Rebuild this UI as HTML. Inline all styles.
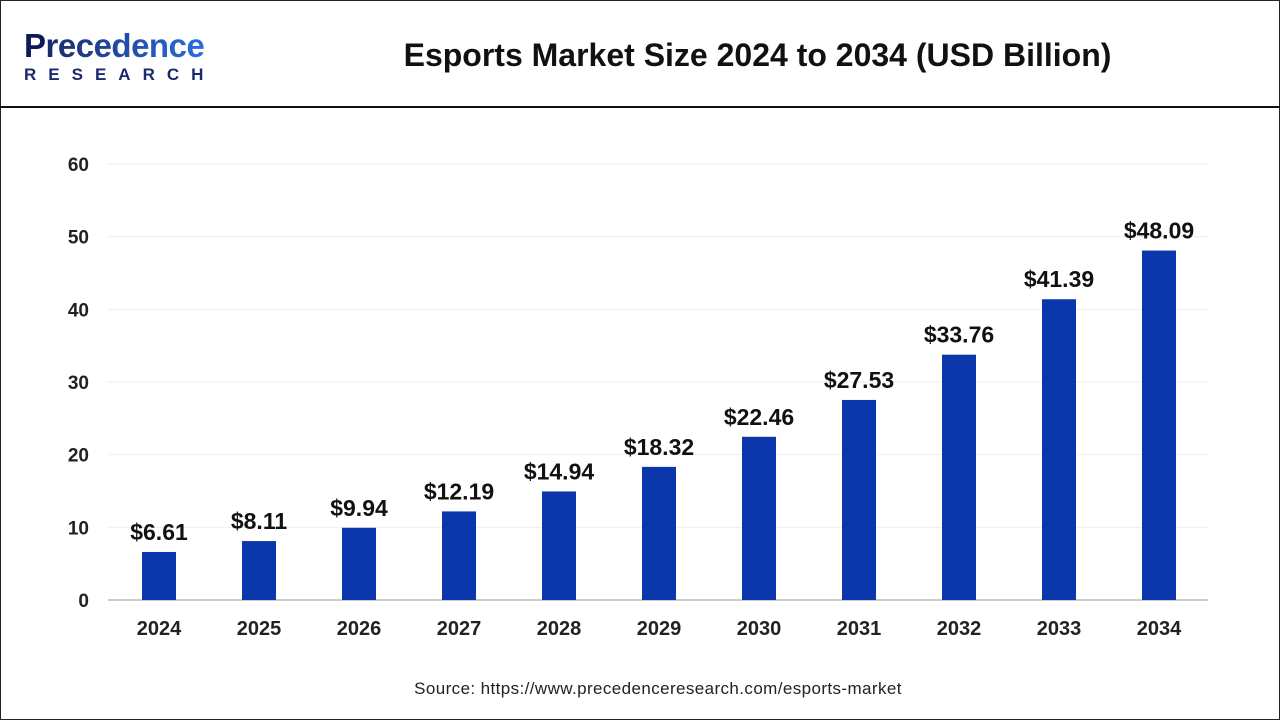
<!DOCTYPE html>
<html><head><meta charset="utf-8"><style>
body{margin:0;width:1280px;height:720px;overflow:hidden;background:#fff;font-family:"Liberation Sans",sans-serif}
#frame{position:absolute;left:0;top:0;width:1278px;height:718px;border:1px solid #222}
#hdr{position:absolute;left:0;top:0;width:1280px;height:106px;border-bottom:2px solid #111}
</style></head><body>
<div id="frame"></div>
<div id="hdr">
  <div style="position:absolute;left:24px;top:29px">
    <div style="font-size:33px;font-weight:bold;color:#1a2a6c;letter-spacing:-0.5px;line-height:34px"><span style="color:#0d1a55">P</span><span style="background:linear-gradient(90deg,#1a2a6c,#2a6ee0);-webkit-background-clip:text;color:transparent">recedence</span></div>
    <div style="font-size:17px;font-weight:bold;color:#1a2a6c;letter-spacing:12px;margin-top:2px">RESEARCH</div>
  </div>
  <div style="position:absolute;left:380px;width:755px;top:37px;text-align:center;font-size:32px;font-weight:bold;color:#111">Esports Market Size 2024 to 2034 (USD Billion)</div>
</div>
<svg id="chart" width="1280" height="720" style="position:absolute;left:0;top:0"></svg>
<div style="position:absolute;left:0;width:1316px;top:679px;text-align:center;font-size:17px;letter-spacing:0.4px;color:#222">Source: https://www.precedenceresearch.com/esports-market</div>
<script>
const categories=["2024","2025","2026","2027","2028","2029","2030","2031","2032","2033","2034"];
const values=[6.61,8.11,9.94,12.19,14.94,18.32,22.46,27.53,33.76,41.39,48.09];
const labels=["$6.61","$8.11","$9.94","$12.19","$14.94","$18.32","$22.46","$27.53","$33.76","$41.39","$48.09"];
const yTicks=[0,10,20,30,40,50,60];
const NS="http://www.w3.org/2000/svg";
const svg=document.getElementById('chart');
const x0=108,x1=1208,y0=600,yTop=164,yMax=60;
const y=v=>y0-(v/yMax)*(y0-yTop);
const step=(x1-x0)/categories.length;
const xc=i=>x0+step*(i+0.5)+1;
function mk(t,a){const e=document.createElementNS(NS,t);for(const k in a)e.setAttribute(k,a[k]);svg.appendChild(e);return e;}
yTicks.forEach(t=>{
  const g=mk('line',{x1:x0,x2:x1,y1:y(t),y2:y(t),stroke:t===0?'#999':'#eee','stroke-width':1});
  
  
  const l=mk('text',{x:89,y:y(t)+7,'text-anchor':'end','font-size':19,'font-weight':'bold',fill:'#222'});
  l.textContent=t;
  
  
});
categories.forEach((c,i)=>{
  const r=mk('rect',{x:xc(i)-17,y:y(values[i]),width:34,height:y0-y(values[i]),fill:'#0c37ac'});
  
  
  const v=mk('text',{x:xc(i),y:y(values[i])-12,'text-anchor':'middle','font-size':23,'font-weight':'bold',fill:'#111'});
  v.textContent=labels[i];
  
  
  const t=mk('text',{x:xc(i),y:635,'text-anchor':'middle','font-size':20,'font-weight':'bold',fill:'#222'});
  t.textContent=c;
  
  
});
</script>
</body></html>
